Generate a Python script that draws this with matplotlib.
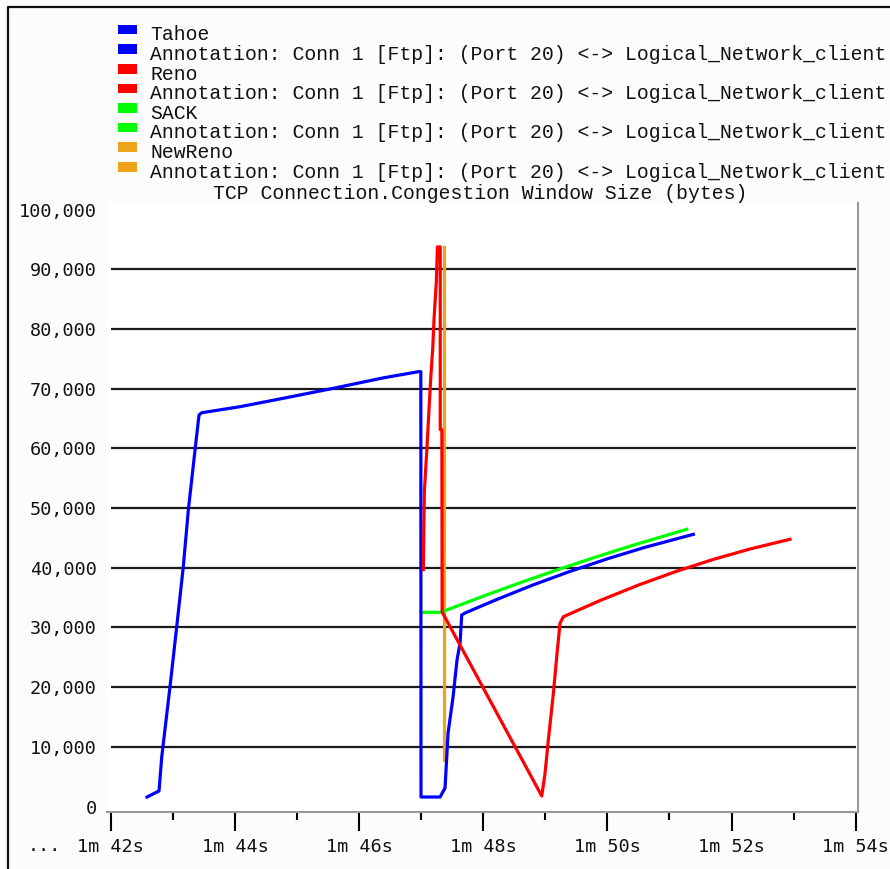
import matplotlib
matplotlib.use("Agg")
import matplotlib.pyplot as plt
from matplotlib.patches import Rectangle
from matplotlib.lines import Line2D

# ---------------- data (time in seconds, cwnd in bytes) ----------------
tahoe_t = [102.585, 102.778, 102.822, 102.955, 103.063, 103.169, 103.250, 103.358, 103.422,
           103.466, 104.083, 104.780, 105.586, 106.391, 106.955, 106.995, 106.998, 107.305,
           107.385, 107.434, 107.514, 107.578, 107.627, 107.654, 107.707, 108.200, 108.800,
           109.400, 110.000, 110.600, 111.385]
tahoe_w = [1590, 2600, 8340, 20070, 30120, 40170, 49660, 59710, 65580,
           65960, 66970, 68380, 70050, 71800, 72830, 72830, 1590, 1590,
           3100, 12310, 18340, 24540, 27390, 32080, 32410, 34600, 37100,
           39390, 41490, 43400, 45590]

reno_t = [107.035, 107.052, 107.090, 107.132, 107.155, 107.187, 107.208, 107.245, 107.262,
          107.308, 107.308, 107.334, 107.338, 108.943, 108.996, 109.049, 109.130, 109.184,
          109.237, 109.291, 109.900, 110.500, 111.100, 111.700, 112.300, 112.942]
reno_w = [39660, 52680, 59430, 67470, 71790, 76750, 81690, 87870, 93730,
          93730, 63150, 63150, 32580, 1760, 5560, 11140, 18960, 25090,
          30690, 31790, 34580, 37090, 39350, 41370, 43140, 44760]

sack_t = [106.998, 107.332, 107.412, 108.000, 108.600, 109.200, 109.800, 110.400, 111.278]
sack_w = [32530, 32530, 32910, 35230, 37500, 39670, 41740, 43720, 46430]

newreno_t = [107.369, 107.369]
newreno_w = [93730, 7790]

series_names = ["Tahoe", "Reno", "SACK", "NewReno"]
annotation_label = "Annotation: Conn 1 [Ftp]: (Port 20) <-> Logical_Network_client"
title = "TCP Connection.Congestion Window Size (bytes)"

y_ticks = [0, 10000, 20000, 30000, 40000, 50000, 60000, 70000, 80000, 90000, 100000]
y_tick_labels = ["0", "10,000", "20,000", "30,000", "40,000", "50,000", "60,000",
                 "70,000", "80,000", "90,000", "100,000"]
x_ticks = [102, 104, 106, 108, 110, 112, 114]
x_tick_labels = ["1m 42s", "1m 44s", "1m 46s", "1m 48s", "1m 50s", "1m 52s", "1m 54s"]
x_minor_ticks = [103, 105, 107, 109, 111, 113]
grid_levels = [10000, 20000, 30000, 40000, 50000, 60000, 70000, 80000, 90000]

colors = {"Tahoe": "#0000ff", "Reno": "#ff0000", "SACK": "#00ff00", "NewReno": "#eea31a"}

# ---------------- figure ----------------
W, H = 890, 869
fig = plt.figure(figsize=(W / 100, H / 100), dpi=100, facecolor="#fcfcfc")

ax_l, ax_r, ax_t, ax_b = 107, 858, 203, 812
ax = fig.add_axes([ax_l / W, 1 - ax_b / H, (ax_r - ax_l) / W, (ax_b - ax_t) / H])
ax.set_facecolor("white")
ax.set_xlim(101.94, 114.037)
ax.set_ylim(-920, 101090)

ax.hlines(grid_levels, x_ticks[0], x_ticks[-1], colors="#1a1a1a", linewidth=1.6, zorder=1)

lw = 2.3
ax.plot(newreno_t, newreno_w, color=colors["NewReno"], linewidth=lw, zorder=2)
ax.plot(sack_t, sack_w, color=colors["SACK"], linewidth=lw, zorder=3)
ax.plot(tahoe_t, tahoe_w, color=colors["Tahoe"], linewidth=lw, zorder=4)
ax.plot(reno_t, reno_w, color=colors["Reno"], linewidth=lw, zorder=5)

for s in ["left", "top"]:
    ax.spines[s].set_visible(False)
ax.spines["bottom"].set_color("#9a9a9a")
ax.spines["bottom"].set_linewidth(1.5)
ax.spines["right"].set_color("#9a9a9a")
ax.spines["right"].set_linewidth(1.5)

tick_font = dict(family="DejaVu Sans Mono", size=13.3)
ax.set_yticks(y_ticks)
ax.set_yticklabels(y_tick_labels, fontdict=tick_font, color="#111111")
ax.tick_params(axis="y", length=0, pad=7.5)
ax.set_xticks(x_ticks)
ax.set_xticklabels(x_tick_labels, fontdict=tick_font, color="#111111")
ax.set_xticks(x_minor_ticks, minor=True)
ax.tick_params(axis="x", which="major", length=13.5, width=1.5, color="black", pad=5)
ax.tick_params(axis="x", which="minor", length=6, width=1.5, color="black")
fig.text(28 / W, 1 - 851 / H, "...", fontdict=tick_font, color="#111111",
         va="baseline", ha="left")

# ---------------- legend & title ----------------
leg_font = dict(family="Liberation Mono", size=14.2)
entries = []
for name in series_names:
    entries.append((name, colors[name]))
    entries.append((annotation_label, colors[name]))
base0, step = 40.3, 19.6
for i, (label, c) in enumerate(entries):
    base = base0 + i * step
    fig.patches.append(Rectangle((118 / W, 1 - (base - 6) / H), 19 / W, 9.5 / H,
                                 transform=fig.transFigure, facecolor=c, edgecolor="none"))
    fig.text(150 / W, 1 - base / H, label, fontdict=leg_font, color="#111111",
             va="baseline", ha="left")
fig.text(480 / W, 1 - 199 / H, title, fontdict=leg_font, color="#111111",
         va="baseline", ha="center")

# outer frame (left and top edges)
fig.add_artist(Line2D([8 / W, 8 / W, 1.0], [0.0, 1 - 7 / H, 1 - 7 / H],
                      transform=fig.transFigure, color="#111111", linewidth=1.6))

fig.savefig("out.png", dpi=100, facecolor=fig.get_facecolor())
